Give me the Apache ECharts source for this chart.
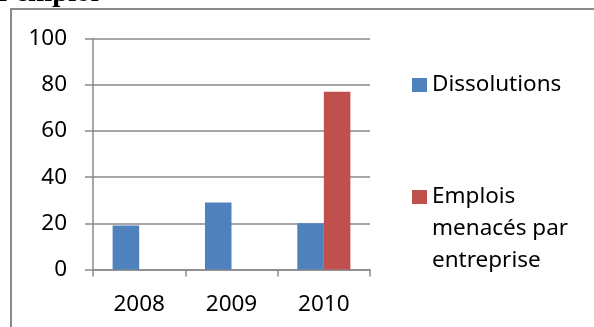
<!DOCTYPE html>
<html>
<head>
<meta charset="utf-8">
<script src="https://cdn.jsdelivr.net/npm/echarts@6/dist/echarts.min.js"></script>
<style>
html,body{margin:0;padding:0;background:#fff;}
#chart{width:594px;height:327px;}
</style>
</head>
<body>
<div id="chart"></div>
<script>
const categories = ['2008', '2009', '2010'];
const dissolutions = [19, 29, 20];
const emplois = [null, null, 77];
const seriesNames = ['Dissolutions', 'Emplois menacés par entreprise'];
const yTicks = [0, 20, 40, 60, 80, 100];
const headingText = "l'emploi";

const FONT = '"Noto Sans", "Open Sans", sans-serif';
const GRAY = '#8a8a8a';

const chart = echarts.init(document.getElementById('chart'), null, {renderer: 'canvas'});
chart.setOption({
  animation: false,
  backgroundColor: '#ffffff',
  title: {
    text: headingText,
    left: -1,
    top: -21,
    padding: 0,
    textStyle: {fontFamily: '"Liberation Serif", serif', fontWeight: 'bold', fontSize: 29, color: '#000'}
  },
  graphic: [{
    type: 'rect',
    shape: {x: 11, y: 9, width: 620, height: 400},
    style: {fill: 'none', stroke: GRAY, lineWidth: 2},
    silent: true,
    z: -1
  }],
  legend: [{
    data: [seriesNames[0]],
    left: 412, top: 69, padding: 0,
    orient: 'vertical',
    icon: 'rect', itemWidth: 15, itemHeight: 14,
    selectedMode: false,
    textStyle: {fontFamily: FONT, fontSize: 22.5, lineHeight: 32, color: '#000'}
  }, {
    data: [seriesNames[1]],
    left: 412, top: 117, padding: 0,
    orient: 'vertical',
    icon: 'rect', itemWidth: 15, itemHeight: 14,
    selectedMode: false,
    formatter: function () {
      return '{e|}\n{e|}\n{t|Emplois}\n{t|menacés par}\n{t|entreprise}';
    },
    textStyle: {
      fontFamily: FONT, fontSize: 22.5, lineHeight: 32, color: '#000',
      rich: {
        e: {fontFamily: FONT, fontSize: 22.5, lineHeight: 32, height: 32},
        t: {fontFamily: FONT, fontSize: 22.5, lineHeight: 32, color: '#000'}
      }
    }
  }],
  grid: {left: 93, right: 224, top: 38.5, bottom: 57.5, containLabel: false},
  xAxis: {
    type: 'category',
    data: categories,
    axisLine: {show: true, lineStyle: {color: GRAY, width: 1.5}},
    axisTick: {show: true, length: 7, lineStyle: {color: GRAY, width: 1.5}},
    axisLabel: {margin: 24, fontFamily: FONT, fontSize: 22.5, color: '#000'},
    splitLine: {show: false}
  },
  yAxis: {
    type: 'value',
    min: yTicks[0], max: yTicks[yTicks.length - 1], interval: yTicks[1] - yTicks[0],
    axisLine: {show: true, lineStyle: {color: GRAY, width: 1.5}},
    axisTick: {show: true, length: 8, lineStyle: {color: GRAY, width: 1.5}},
    axisLabel: {margin: 26, fontFamily: FONT, fontSize: 22.5, color: '#000'},
    splitLine: {show: true, lineStyle: {color: GRAY, width: 1.5}}
  },
  series: [{
    name: seriesNames[0], type: 'bar', data: dissolutions,
    barGap: '0%', barCategoryGap: '42.5%',
    itemStyle: {color: '#4f81bd'}
  }, {
    name: seriesNames[1], type: 'bar', data: emplois,
    barGap: '0%', barCategoryGap: '42.5%',
    itemStyle: {color: '#c0504d'}
  }]
});
</script>
</body>
</html>
